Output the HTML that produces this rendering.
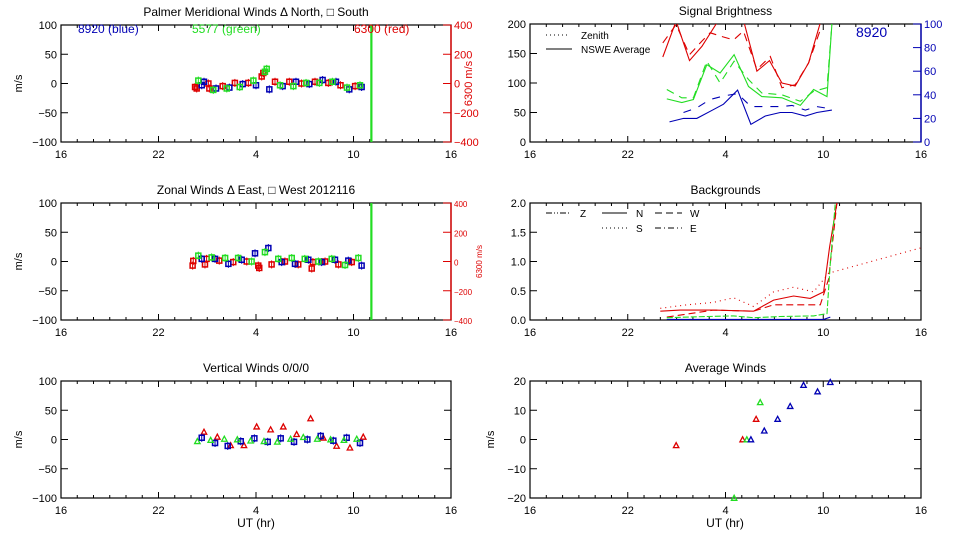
<!DOCTYPE html>
<html><head><meta charset="utf-8"><style>
html,body{margin:0;padding:0;background:#fff;}
svg{display:block;font-family:"Liberation Sans",sans-serif;}
</style></head><body>
<svg id="c" width="960" height="540" viewBox="0 0 960 540"></svg>
<script>
// ---- data (x in hours on 16..40 axis, i.e. 16 UT day1 -> 16 UT day2) ----
const xTickVals=[16,22,28,34,40];
const xTickLabels=["16","22","4","10","16"];
const wind5Ticks=[100,50,0,-50,-100];
const redAxisTicks=[400,200,0,-200,-400];
// Meridional
const merRedX=[24.25,24.35,25.07,25.13,25.95,26.7,27.53,28.35,28.45,29.17,30.05,30.8,31.63,32.45,33.2,34.1];
const merRedY=[-6,-8.5,0,-8.5,-4.5,1,1,12,18,3,3,0,3,1,-3,-4.5];
const merBlueX=[24.66,24.8,25.54,26.36,27.18,28.0,28.82,29.64,30.46,31.28,32.1,32.92,33.74,34.5];
const merBlueY=[-3,3,-8.5,-7,-1,-3,-10,-4.5,3,-1,6,3,-10,-6];
const merGreenX=[24.45,25.37,26.2,27.0,27.84,28.55,28.66,29.48,30.3,31.08,31.9,32.7,33.6,34.4];
const merGreenY=[5,-11,-8.5,-6,5,20,25,-3,-4.5,1,1,3,-7,-3];
// Zonal
const zonRedX=[24.1,24.14,24.86,24.96,25.74,26.6,27.43,28.14,28.2,28.96,29.78,30.6,31.43,31.5,32.25,33.07,33.89];
const zonRedY=[-7,1,-5,4.5,1.5,-1,0,-7,-11,-5,0,-5,-12,-1,0,-5,-1];
const zonBlueX=[24.66,25.48,26.3,27.12,27.94,28.76,29.58,30.4,31.22,32.04,32.86,33.68,34.5];
const zonBlueY=[4.5,4.5,-4,3,14,23,-1,-4,3,-1,3,1.5,-7];
const zonGreenX=[24.45,25.27,26.1,26.9,27.73,28.55,29.37,30.2,31.0,31.84,32.66,33.48,34.3];
const zonGreenY=[10,7,6,6,0,16,4.5,6,4.5,0,4.5,-6,6];
// Vertical
const verRedX=[24.8,25.62,26.44,27.26,28.04,28.9,29.68,30.5,31.36,32.14,32.96,33.78,34.6];
const verRedY=[13,4.5,-10,-10,22,17,22,9,36,3,-11,-14,4.5];
const verBlueX=[24.66,25.48,26.26,27.06,27.9,28.72,29.52,30.34,31.16,31.98,32.76,33.58,34.4];
const verBlueY=[3,-6,-11,-3,2,-4,2,-4,0,6,-2,3,-6];
const verGreenX=[24.39,25.21,26.05,26.85,27.67,28.49,29.31,30.13,30.91,31.77,32.59,33.41,34.2];
const verGreenY=[-3,-1,1,0,-2,-3,-4,1,4,1,0,-1,1];
const cutoffHour=35.1;
// Signal brightness
const briTicks=[200,150,100,50,0];
const briBlueTicks=[100,80,60,40,20,0];
const briRedSolidX=[24.15,24.97,25.79,26.55,27.47,29.1,29.93,30.7,31.46,32.28,33.1,33.82];
const briRedSolidY=[144,205,138,162,202,207,120,138,100,95,134,202];
const briRedDashX=[24.15,24.97,25.79,26.55,27.06,27.88,28.5,29.1,29.93,30.75,31.46,32.28,33.1,33.82];
const briRedDashY=[168,199,148,171,185,178,173,188,123,145,92,97,134,190];
const briGreenSolidX=[24.4,25.32,26.03,26.85,27.67,28.53,29.41,30.23,31.46,32.59,33.41,34.23,34.53];
const briGreenSolidY=[73,67,72,131,117,148,94,77,75,62,89,77,200];
const briGreenDashX=[24.4,25.32,26.03,26.85,27.67,28.53,29.41,30.23,31.46,32.59,33.41,34.23,34.53];
const briGreenDashY=[89,75,75,137,100,137,106,83,80,69,86,92,200];
const briBlueSolidX=[24.56,25.42,26.24,27.06,27.88,28.74,29.56,30.44,31.36,32.08,32.9,33.61,34.53];
const briBlueSolidY=[17,20,20,26,32,44,15,22,25,25,22,25,27];
const briBlueDashX=[25.42,26.24,27.06,27.88,28.74,29.56,31.46,32.08,32.9,33.61,34.53];
const briBlueDashY=[25,29,36,39,41,30,30,31,27,30,28];
// Backgrounds
const bgTicks=[2.0,1.5,1.0,0.5,0.0];
const bgTickLabels=["2.0","1.5","1.0","0.5","0.0"];
const bgRedNX=[24.0,25.22,27.26,29.72,30.95,32.18,33.2,34.02,34.39,34.84];
const bgRedNY=[0.15,0.17,0.17,0.15,0.34,0.41,0.37,0.48,1.25,2.0];
const bgRedSX=[24.0,25.64,27.26,28.5,29.72,30.95,32.18,33.41,34.33,39.96];
const bgRedSY=[0.2,0.26,0.3,0.38,0.23,0.48,0.56,0.48,0.8,1.23];
const bgRedWX=[24.4,27.26,29.72,30.95,32.18,33.82,34.33,34.84];
const bgRedWY=[0.05,0.17,0.15,0.26,0.26,0.26,0.7,2.0];
const bgGreenX=[24.4,26.85,28.5,29.72,31.36,33.41,34.23,34.43,34.74];
const bgGreenY=[0.04,0.06,0.07,0.04,0.06,0.07,0.11,0.97,2.0];
const bgBlueX=[24.4,34.02,34.43];
const bgBlueY=[0.01,0.01,0.05];
// Average winds
const avgTicks=[20,10,0,-10,-20];
const avgRedX=[24.97,29.05,29.88];
const avgRedY=[-2,0,7];
const avgGreenX=[28.53,29.31,30.13];
const avgGreenY=[-20,0,12.7];
const avgBlueX=[29.56,30.38,31.2,31.97,32.79,33.65,34.43];
const avgBlueY=[0,3,7,11.4,18.6,16.4,19.6];

const RED="#dd0000",GREEN="#22dd22",BLUE="#0000b4";
const svg=document.getElementById('c');
const NS="http://www.w3.org/2000/svg";
function el(tag,attrs,parent){const e=document.createElementNS(NS,tag);for(const k in attrs)e.setAttribute(k,attrs[k]);(parent||svg).appendChild(e);return e;}
function txt(s,x,y,attrs,parent){const t=el('text',Object.assign({x:x,y:y,'font-size':11,fill:'#000'},attrs||{}),parent);t.textContent=s;return t;}
let clipN=0;
function panel(name,x0,x1,y0,y1,ymin,ymax,title){
  const g=el('g',{});
  
  
  const P={g:g,x0:x0,x1:x1,y0:y0,y1:y1,
    sx:v=>x0+(v-16)/24*(x1-x0),
    sy:v=>y1-(v-ymin)/(ymax-ymin)*(y1-y0)};
  clipN++;
  const cp=el('clipPath',{id:'cp'+clipN},g);
  el('rect',{x:x0,y:y0,width:x1-x0,height:y1-y0},cp);
  P.clip='url(#cp'+clipN+')';
  el('rect',{x:x0,y:y0,width:x1-x0,height:y1-y0,fill:'none',stroke:'#000','stroke-width':1.2},g);
  for(let h=16;h<=40;h++){
    const X=P.sx(h);const L=(h-16)%6===0?6:3;
    el('line',{x1:X,x2:X,y1:y1,y2:y1-L,stroke:'#000'},g);
    el('line',{x1:X,x2:X,y1:y0,y2:y0+L,stroke:'#000'},g);
  }
  xTickVals.forEach((v,i)=>{const t=txt(xTickLabels[i],P.sx(v),y1+16,{'text-anchor':'middle'},g);
    });
  const tt=txt(title,(x0+x1)/2,y0-9,{'text-anchor':'middle','font-size':12},g);
  
  return P;
}
function yAxis(P,ticks,labels,withRight){
  ticks.forEach((v,i)=>{const Y=P.sy(v);
    el('line',{x1:P.x0,x2:P.x0+7,y1:Y,y2:Y,stroke:'#000'},P.g);
    if(withRight)el('line',{x1:P.x1,x2:P.x1-7,y1:Y,y2:Y,stroke:'#000'},P.g);
    const t=txt(labels?labels[i]:String(v).replace('-','\u2212'),P.x0-4,Y+4,{'text-anchor':'end'},P.g);
    });
}
function yTitle(P,s,x,color,size){
  const t=txt(s,x,(P.y0+P.y1)/2,{'text-anchor':'middle',transform:'rotate(-90 '+x+' '+(P.y0+P.y1)/2+')',fill:color||'#000','font-size':size||11},P.g);
  
}
function rightAxis(P,ticks,color,size){
  ticks.forEach(v=>{const Y=P.y1-(v-ticks[ticks.length-1])/(ticks[0]-ticks[ticks.length-1])*(P.y1-P.y0);
    el('line',{x1:P.x1,x2:P.x1-8,y1:Y,y2:Y,stroke:color},P.g);
    const t=txt(String(v).replace('-','\u2212'),P.x1+3,Y+4,{fill:color,'font-size':size||11},P.g);
    });
  el('line',{x1:P.x1,x2:P.x1,y1:P.y0,y2:P.y1,stroke:color,'stroke-width':1.4},P.g);
}
function markers(P,xs,ys,color,shape,name){
  xs.forEach((x,i)=>{const X=P.sx(x),Y=P.sy(ys[i]);let m;
    if(shape==='tri')m=el('path',{d:`M${X-2.7},${Y+2.3}L${X+2.7},${Y+2.3}L${X},${Y-2.7}Z`,fill:'none',stroke:color,'stroke-width':1.3},P.g);
    else {m=el('rect',{x:X-2.5,y:Y-2.5,width:5,height:5,fill:'none',stroke:color,'stroke-width':1.5},P.g);
      el('line',{x1:X,x2:X,y1:Y-4,y2:Y+4,stroke:color},P.g);}
    
    });
}
function line(P,xs,ys,color,dash,name,ysc){
  const f=ysc||P.sy;
  const d=xs.map((x,i)=>(i?'L':'M')+P.sx(x).toFixed(1)+','+f(ys[i]).toFixed(1)).join('');
  const p=el('path',{d:d,fill:'none',stroke:color,'stroke-width':1.1,'stroke-dasharray':dash||'none','clip-path':P.clip},P.g);
  
  
}
function cutoff(P){const X=P.sx(cutoffHour);
  const l=el('line',{x1:X,x2:X,y1:P.y0,y2:P.y1,stroke:GREEN,'stroke-width':2.2},P.g);
  }

// ---- Panel 1: meridional ----
let P=panel('meridional-winds-panel',61,451,25,142,-100,100,'Palmer Meridional Winds \u0394 North, \u25a1 South');
yAxis(P,wind5Ticks);yTitle(P,'m/s',22);rightAxis(P,redAxisTicks,RED);
yTitle(P,'6300 m/s',472,RED);
cutoff(P);
markers(P,merRedX,merRedY,RED,'sq','meridional-red-point');
markers(P,merBlueX,merBlueY,BLUE,'sq','meridional-blue-point');
markers(P,merGreenX,merGreenY,GREEN,'sq','meridional-green-point');
[['8920 (blue)',78,BLUE],['5577 (green)',192,GREEN],['6300 (red)',354,RED]].forEach(a=>{
  const t=txt(a[0],a[1],33,{fill:a[2],'font-size':12},P.g);
  });

// ---- Panel 2: zonal ----
P=panel('zonal-winds-panel',61,451,203,320,-100,100,'Zonal Winds \u0394 East, \u25a1 West 2012116');
yAxis(P,wind5Ticks);yTitle(P,'m/s',22);rightAxis(P,redAxisTicks,RED,8);
yTitle(P,'6300 m/s',482,RED,8);
cutoff(P);
markers(P,zonRedX,zonRedY,RED,'sq','zonal-red-point');
markers(P,zonBlueX,zonBlueY,BLUE,'sq','zonal-blue-point');
markers(P,zonGreenX,zonGreenY,GREEN,'sq','zonal-green-point');

// ---- Panel 3: vertical ----
P=panel('vertical-winds-panel',61,451,381,498,-100,100,'Vertical Winds 0/0/0');
yAxis(P,wind5Ticks,null,true);yTitle(P,'m/s',22);
markers(P,verRedX,verRedY,RED,'tri','vertical-red-point');
markers(P,verBlueX,verBlueY,BLUE,'sq','vertical-blue-point');
markers(P,verGreenX,verGreenY,GREEN,'tri','vertical-green-point');
let t=txt('UT (hr)',256,527,{'text-anchor':'middle','font-size':12});


// ---- Panel 4: brightness ----
P=panel('signal-brightness-panel',530,921,24,142,0,200,'Signal Brightness');
yAxis(P,briTicks);rightAxis(P,briBlueTicks,BLUE);
const sb=v=>P.y1-v/100*(P.y1-P.y0);
line(P,briRedSolidX,briRedSolidY,RED,null,'brightness-red-avg');
line(P,briRedDashX,briRedDashY,RED,'8,6','brightness-red-zenith');
line(P,briGreenSolidX,briGreenSolidY,GREEN,null,'brightness-green-avg');
line(P,briGreenDashX,briGreenDashY,GREEN,'8,6','brightness-green-zenith');
line(P,briBlueSolidX,briBlueSolidY,BLUE,null,'brightness-blue-avg',sb);
line(P,briBlueDashX,briBlueDashY,BLUE,'8,8','brightness-blue-zenith',sb);
el('line',{x1:546,x2:570,y1:35,y2:35,stroke:'#000','stroke-dasharray':'1,3'},P.g);
txt('Zenith',581,39,{'font-size':10},P.g);
el('line',{x1:546,x2:572,y1:49,y2:49,stroke:'#000'},P.g);
txt('NSWE Average',581,53,{'font-size':10},P.g);
t=txt('8920',856,37,{fill:BLUE,'font-size':14},P.g);


// ---- Panel 5: backgrounds ----
P=panel('backgrounds-panel',530,921,203,320,0,2,'Backgrounds');
yAxis(P,bgTicks,bgTickLabels,true);
line(P,bgRedNX,bgRedNY,RED,null,'background-red-n');
line(P,bgRedSX,bgRedSY,RED,'1,4','background-red-s');
line(P,bgRedWX,bgRedWY,RED,'7,4','background-red-w');
line(P,bgGreenX,bgGreenY,GREEN,'6,2','background-green');
line(P,bgBlueX,bgBlueY,BLUE,null,'background-blue');
[[546,571,213,'6,2,1,2,1,2','Z',580],[602,627,213,null,'N',636],[655,682,213,'7,4','W',690],
 [602,627,228,'1,3','S',636],[655,682,228,'6,3,1,3','E',690]].forEach(a=>{
  el('line',{x1:a[0],x2:a[1],y1:a[2],y2:a[2],stroke:'#000','stroke-dasharray':a[3]||'none'},P.g);
  const l=txt(a[4],a[5],a[2]+4,{'font-size':10},P.g);
  });

// ---- Panel 6: average winds ----
P=panel('average-winds-panel',530,921,381,498,-20,20,'Average Winds');
yAxis(P,avgTicks,null,true);yTitle(P,'m/s',494);
markers(P,avgRedX,avgRedY,RED,'tri','average-red-point');
markers(P,avgGreenX,avgGreenY,GREEN,'tri','average-green-point');
markers(P,avgBlueX,avgBlueY,BLUE,'tri','average-blue-point');
t=txt('UT (hr)',725,527,{'text-anchor':'middle','font-size':12});

</script>
</body></html>
